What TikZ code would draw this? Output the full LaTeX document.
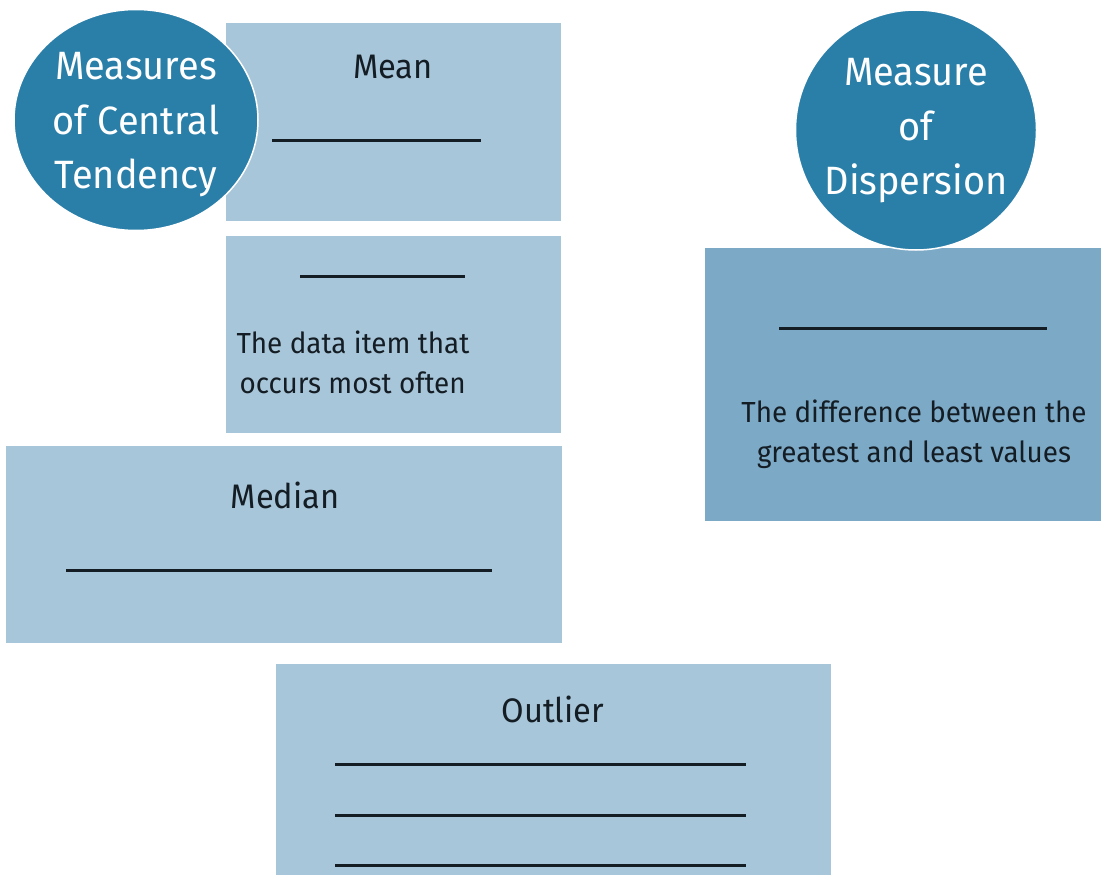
\documentclass[tikz,border=0pt]{standalone}
\usepackage{fontspec}
\setmainfont[FakeStretch=0.96]{Fira Sans}
\usetikzlibrary{shapes.geometric}
\begin{document}
\begin{tikzpicture}[x=1pt,y=-1pt,
  lightbox/.style={fill=boxlight,draw=none},
  darkbox/.style={fill=boxdark,draw=none},
  badge/.style={ellipse,fill=badgeblue,draw=white,line width=1.5pt,inner sep=0pt},
  badgetext/.style={text=white,font=\fontsize{39.5}{46}\selectfont,anchor=base},
  title/.style={text=inkdark,font=\fontsize{34}{40}\selectfont,anchor=base},
  desc/.style={text=inkdark,font=\fontsize{29}{34}\selectfont,anchor=base},
  blank/.style={draw=inkdark,line width=3pt}
]
\definecolor{boxlight}{HTML}{A8C6D9}
\definecolor{boxdark}{HTML}{7CA9C6}
\definecolor{badgeblue}{HTML}{2A7FA9}
\definecolor{inkdark}{HTML}{141C24}
\useasboundingbox (0,0) rectangle (1101,875);
\fill[white] (0,0) rectangle (1101,875);

% answer boxes
\fill[lightbox] (226,23) rectangle (561,221);
\fill[lightbox] (226,236) rectangle (561,433);
\fill[lightbox] (6,446) rectangle (562,643);
\fill[lightbox] (276,664) rectangle (831,875);
\fill[darkbox] (705,248) rectangle (1101,521);

% Mean
\node[title] (mean) at (393,78) {Mean};
\draw[blank] (272,140) -- (481,140);

% Mode
\draw[blank] (300,276) -- (465,276);
\node[desc,anchor=base west] (mode1) at (233,353) {The data item that};
\node[desc,anchor=base west] (mode2) at (236,393) {occurs most often};

% Median
\node[title] (median) at (285,508) {Median};
\draw[blank] (66,570) -- (492,570);

% Outlier
\node[title] (outlier) at (553,722) {Outlier};
\draw[blank] (335,764) -- (746,764);
\draw[blank] (335,815) -- (746,815);
\draw[blank] (335,865) -- (746,865);

% Range
\draw[blank] (779,328) -- (1047,328);
\node[desc] (range1) at (914,422) {The difference between the};
\node[desc] (range2) at (914,462) {greatest and least values};

% headings
\node[badge,minimum width=244pt,minimum height=221pt] (central) at (136,120) {};
\node[badgetext] (c1) at (136,80) {Measures};
\node[badgetext] (c2) at (136,134) {of Central};
\node[badgetext] (c3) at (136,188) {Tendency};

\node[badge,minimum width=241pt,minimum height=240pt] (disp) at (916,130) {};
\node[badgetext] (d1) at (916,85) {Measure};
\node[badgetext] (d2) at (916,140) {of};
\node[badgetext] (d3) at (916,194) {Dispersion};
\end{tikzpicture}
\end{document}
